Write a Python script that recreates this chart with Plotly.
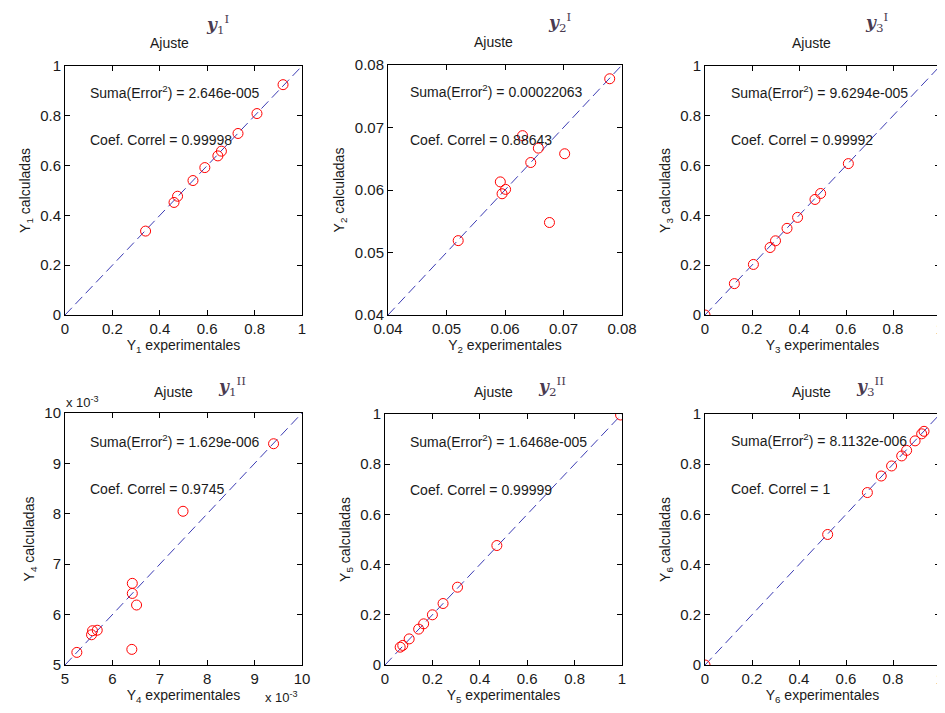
import plotly.graph_objects as go

# ---------------- data ----------------
y1_exp = [0.34, 0.46, 0.475, 0.54, 0.59, 0.645, 0.66, 0.73, 0.81, 0.92]
y1_cal = [0.337, 0.452, 0.477, 0.540, 0.592, 0.639, 0.658, 0.729, 0.809, 0.925]

y2_exp = [0.052, 0.0592, 0.0595, 0.0601, 0.0630, 0.0644, 0.0657, 0.0676, 0.0702, 0.0779]
y2_cal = [0.0519, 0.0613, 0.0594, 0.0601, 0.0687, 0.0644, 0.0667, 0.0548, 0.0658, 0.0778]

y3_exp = [0.0, 0.125, 0.206, 0.277, 0.300, 0.349, 0.394, 0.468, 0.492, 0.610]
y3_cal = [0.0, 0.126, 0.203, 0.271, 0.298, 0.348, 0.392, 0.464, 0.488, 0.608]

y4_exp = [0.00525, 0.00556, 0.00558, 0.00568, 0.00641, 0.00642, 0.00642, 0.00651, 0.00749, 0.00940]
y4_cal = [0.00525, 0.00560, 0.00568, 0.00569, 0.00531, 0.00642, 0.00662, 0.00619, 0.00805, 0.00939]

y5_exp = [0.064, 0.075, 0.102, 0.142, 0.163, 0.200, 0.245, 0.306, 0.472, 0.994]
y5_cal = [0.071, 0.078, 0.104, 0.143, 0.164, 0.200, 0.245, 0.310, 0.476, 0.996]

y6_exp = [0.0, 0.522, 0.691, 0.750, 0.794, 0.837, 0.858, 0.894, 0.922, 0.932]
y6_cal = [0.0, 0.520, 0.687, 0.753, 0.793, 0.833, 0.855, 0.893, 0.921, 0.931]

exp_series = [y1_exp, y2_exp, y3_exp, y4_exp, y5_exp, y6_exp]
cal_series = [y1_cal, y2_cal, y3_cal, y4_cal, y5_cal, y6_cal]

sum_err = ["2.646e-005", "0.00022063", "9.6294e-005", "1.629e-006", "1.6468e-005", "8.1132e-006"]
correl = ["0.99998", "0.88643", "0.99992", "0.9745", "0.99999", "1"]

axis_ranges = [(0, 1), (0.04, 0.08), (0, 1), (0.005, 0.010), (0, 1), (0, 1)]
tick_vals = [
    [0, 0.2, 0.4, 0.6, 0.8, 1],
    [0.04, 0.05, 0.06, 0.07, 0.08],
    [0, 0.2, 0.4, 0.6, 0.8, 1],
    [0.005, 0.006, 0.007, 0.008, 0.009, 0.010],
    [0, 0.2, 0.4, 0.6, 0.8, 1],
    [0, 0.2, 0.4, 0.6, 0.8, 1],
]
tick_text = [
    ["0", "0.2", "0.4", "0.6", "0.8", "1"],
    ["0.04", "0.05", "0.06", "0.07", "0.08"],
    ["0", "0.2", "0.4", "0.6", "0.8", "1"],
    ["5", "6", "7", "8", "9", "10"],
    ["0", "0.2", "0.4", "0.6", "0.8", "1"],
    ["0", "0.2", "0.4", "0.6", "0.8", "1"],
]
sub_idx = ["1", "2", "3", "4", "5", "6"]
title_sub = ["1", "2", "3", "1", "2", "3"]
title_sup = ["I", "I", "I", "II", "II", "II"]

# ---------------- layout geometry (window pixels) ----------------
WIN_W, WIN_H = 945, 713
OFF = 8  # default page body margin
W, H = WIN_W - OFF, WIN_H - OFF


def px(xp):
    return (xp - OFF) / W


def py(yp):
    return 1 - (yp - OFF) / H


boxes = [  # left, right, top, bottom in window px
    (65, 302, 66, 315),
    (388, 622, 65, 315),
    (705, 940, 66, 315),
    (65, 302, 413, 665),
    (385, 622, 414, 665),
    (705, 940, 414, 665),
]
text_x = [0.099, 0.086, 0.102, 0.099, 0.099, 0.102]
text_y1 = [0.896, 0.896, 0.896, 0.888, 0.893, 0.895]
text_y2 = [0.702, 0.702, 0.702, 0.697, 0.699, 0.700]
title_word_x = [148, 472, 790, 152, 472, 790]
title_word_y = [43, 42, 43, 392, 392, 392]
title_img_x = [204, 546, 863, 216, 536, 854]
title_img_y = [24, 22, 22, 386, 386, 386]

FONT = "Liberation Sans, Arial, sans-serif"
TXT = "#1a1a1a"

fig = go.Figure()
annotations = []
layout_axes = {}

for i in range(6):
    n = i + 1
    xa = "x" if n == 1 else f"x{n}"
    ya = "y" if n == 1 else f"y{n}"
    l, r, t, b = boxes[i]
    lo, hi = axis_ranges[i]

    fig.add_trace(go.Scatter(
        x=[lo, hi], y=[lo, hi], mode="lines",
        line=dict(color="rgb(60,60,180)", width=1, dash="10px,5px"),
        xaxis=xa, yaxis=ya, showlegend=False, hoverinfo="skip"))
    fig.add_trace(go.Scatter(
        x=exp_series[i], y=cal_series[i], mode="markers",
        marker=dict(symbol="circle-open", size=10, color="red", line=dict(width=1, color="red")),
        xaxis=xa, yaxis=ya, showlegend=False))

    common = dict(
        showline=True, linecolor="black", linewidth=1, mirror="ticks",
        ticks="inside", ticklen=5, tickcolor="black", showgrid=False, zeroline=False,
        tickfont=dict(family=FONT, size=15, color=TXT),
        tickmode="array", tickvals=tick_vals[i], ticktext=tick_text[i],
        range=[lo, hi], fixedrange=True, automargin=False,
    )
    layout_axes["xaxis" if n == 1 else f"xaxis{n}"] = dict(
        common, domain=[px(l), px(r)], anchor=ya,
        title=dict(text=f"Y<sub>{sub_idx[i]}</sub> experimentales",
                   font=dict(family=FONT, size=14, color=TXT), standoff=2),
    )
    layout_axes["yaxis" if n == 1 else f"yaxis{n}"] = dict(
        common, domain=[py(b), py(t)], anchor=xa,
        title=dict(text=f"Y<sub>{sub_idx[i]}</sub> calculadas",
                   font=dict(family=FONT, size=14, color=TXT), standoff=6),
    )

    dx = "x domain" if n == 1 else f"x{n} domain"
    dy = "y domain" if n == 1 else f"y{n} domain"
    annotations.append(dict(
        xref=dx, yref=dy, x=text_x[i], y=text_y1[i], xanchor="left", yanchor="middle",
        text=f"Suma(Error<sup>2</sup>) = {sum_err[i]}", showarrow=False,
        font=dict(family=FONT, size=14, color=TXT)))
    annotations.append(dict(
        xref=dx, yref=dy, x=text_x[i], y=text_y2[i], xanchor="left", yanchor="middle",
        text=f"Coef. Correl = {correl[i]}", showarrow=False,
        font=dict(family=FONT, size=14, color=TXT)))

    # titles
    annotations.append(dict(
        xref="paper", yref="paper", x=px(title_word_x[i]), y=py(title_word_y[i]),
        xanchor="left", yanchor="middle", text="Ajuste", showarrow=False,
        font=dict(family=FONT, size=14, color=TXT)))
    annotations.append(dict(
        xref="paper", yref="paper", x=px(title_img_x[i]), y=py(title_img_y[i]),
        xanchor="left", yanchor="middle",
        text=f"<b><i>y</i></b><sub>{title_sub[i]}</sub><sup>{title_sup[i]}</sup>",
        showarrow=False,
        font=dict(family="DejaVu Serif, serif", size=17, color="#4a3a50")))

# exponent labels for plot 4
annotations.append(dict(
    xref="paper", yref="paper", x=px(64), y=py(402), xanchor="left", yanchor="middle",
    text="x 10<sup>-3</sup>", showarrow=False, font=dict(family=FONT, size=13, color=TXT)))
annotations.append(dict(
    xref="paper", yref="paper", x=px(263), y=py(697), xanchor="left", yanchor="middle",
    text="x 10<sup>-3</sup>", showarrow=False, font=dict(family=FONT, size=13, color=TXT)))

fig.update_layout(
    width=W, height=H,
    margin=dict(l=0, r=0, t=0, b=0, autoexpand=False),
    paper_bgcolor="white", plot_bgcolor="white",
    showlegend=False,
    annotations=annotations,
    **layout_axes,
)

fig.write_html("out.html")
